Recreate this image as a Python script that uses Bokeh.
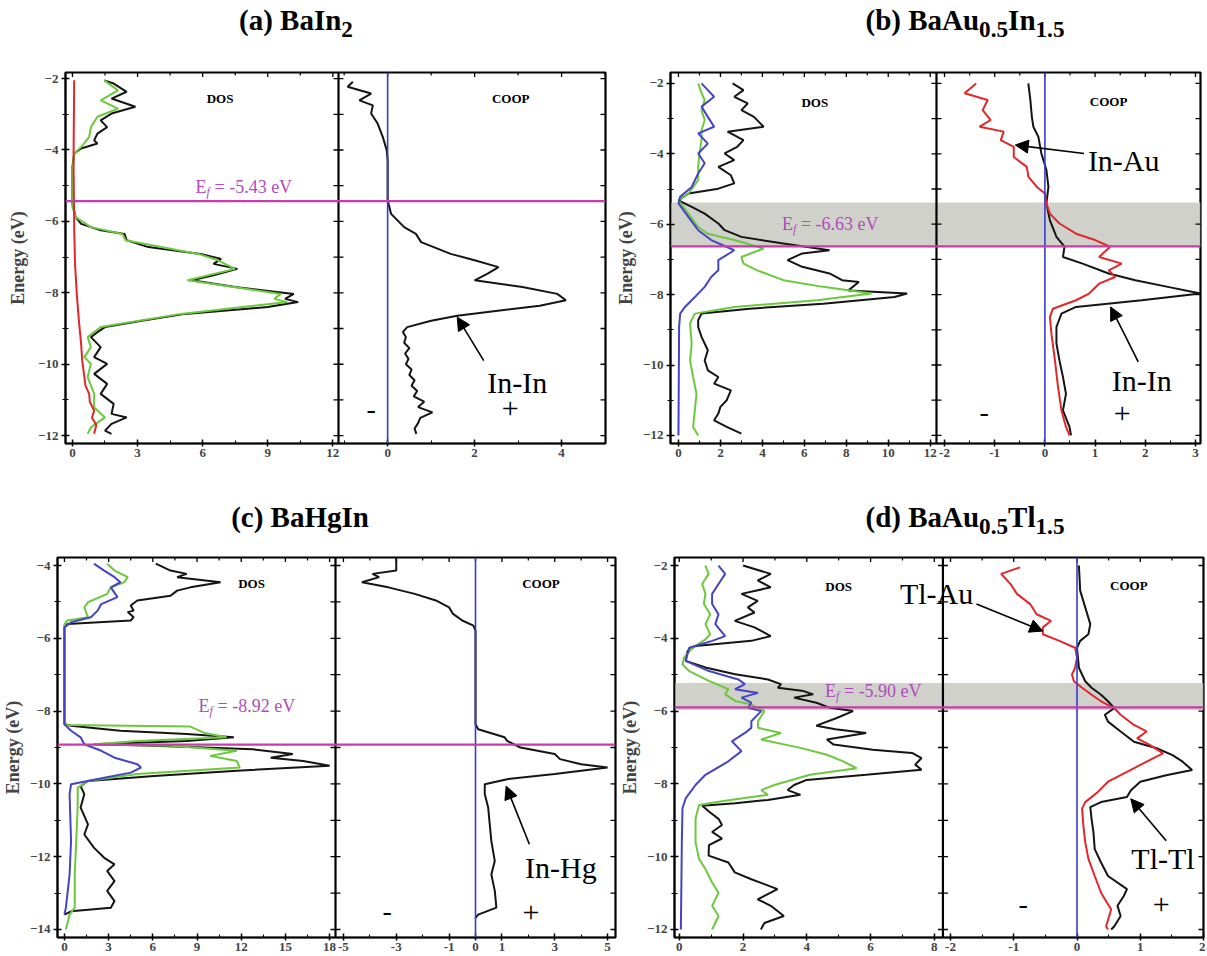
import math
from bokeh.plotting import figure
from bokeh.models import (Range1d, LinearAxis, FixedTicker, Span, BoxAnnotation, Label,
                          Arrow, NormalHead, Div, Spacer)
from bokeh.layouts import column, row
from bokeh.embed import file_html
from bokeh.resources import INLINE

# ---------------- data (energy in eV, value) ----------------
# (a) BaIn2
a_tot_e = [-2.05,-2.14,-2.37,-2.56,-2.79,-2.98,-3.17,-3.36,-3.54,-3.73,-3.82,-3.96,-4.10,-4.48,-5.50,-5.88,-6.07,-6.25,-6.35,-6.53,-6.72,-6.91,-7.05,-7.19,-7.33,-7.51,-7.65,-7.84,-8.03,-8.17,-8.26,-8.40,-8.59,-8.78,-8.96,-9.10,-9.24,-9.52,-9.80,-9.99,-10.27,-10.55,-10.83,-11.11,-11.39,-11.49,-11.67,-11.86,-11.95]
a_tot_v = [1.46,1.9,2.5,1.8,2.9,1.8,1.3,1.6,1.15,1.0,1.15,0.4,0.08,0.0,0.0,0.15,0.4,1.3,2.4,2.5,3.5,5.9,6.85,6.5,7.6,6.5,5.5,7.5,10.2,9.8,10.4,9.0,5.2,3.2,1.5,1.15,0.85,1.3,1.0,1.6,1.0,1.6,1.3,1.9,1.8,2.5,1.8,1.5,1.8]
a_grn_e = [-2.05,-2.33,-2.61,-2.84,-3.07,-3.36,-3.64,-3.92,-4.10,-4.57,-5.60,-5.88,-6.16,-6.35,-6.53,-6.91,-7.09,-7.33,-7.65,-8.03,-8.17,-8.26,-8.59,-8.96,-9.24,-9.52,-9.80,-9.99,-10.36,-10.83,-11.21,-11.49,-11.77,-11.95]
a_grn_v = [1.46,2.1,1.3,2.1,1.15,0.85,0.77,0.4,0.08,0.0,0.0,0.15,0.85,2.3,2.45,5.8,6.7,7.5,5.3,9.6,9.3,9.9,5.0,1.3,0.7,0.85,0.55,0.85,0.7,1.0,1.0,1.5,0.85,0.7]
a_red_e = [-2.05,-4.3,-6.2,-7.2,-8.03,-8.8,-9.43,-9.9,-10.36,-10.6,-10.83,-11.05,-11.3,-11.5,-11.7,-11.95]
a_red_v = [0.08,0.05,0.08,0.12,0.2,0.3,0.4,0.45,0.55,0.6,0.77,0.8,1.0,0.9,1.1,1.0]
a_coop_e = [-2.09,-2.23,-2.42,-2.61,-2.75,-2.98,-3.26,-3.64,-4.01,-4.29,-5.41,-5.79,-6.16,-6.35,-6.58,-6.91,-7.09,-7.28,-7.47,-7.65,-7.84,-8.03,-8.21,-8.36,-8.64,-8.78,-8.96,-9.10,-9.24,-9.40,-9.55,-9.70,-9.85,-10.0,-10.15,-10.3,-10.45,-10.6,-10.75,-10.9,-11.05,-11.2,-11.35,-11.5,-11.65,-11.8,-11.95]
a_coop_v = [-0.8,-0.92,-0.38,-0.65,-0.34,-0.38,-0.23,-0.11,-0.02,0.0,0.0,0.08,0.38,0.65,0.77,1.45,2.0,2.55,2.29,2.0,3.1,3.9,4.1,3.5,1.6,1.0,0.45,0.35,0.42,0.38,0.5,0.4,0.48,0.42,0.55,0.5,0.62,0.55,0.68,0.6,0.84,0.7,1.03,0.75,0.7,0.62,0.66]

# (b) BaAu0.5In1.5
b_tot_e = [-2.00,-2.19,-2.38,-2.57,-2.76,-2.95,-3.23,-3.37,-3.61,-3.80,-3.99,-4.18,-4.37,-4.61,-4.84,-4.99,-5.13,-5.32,-5.51,-5.70,-5.98,-6.17,-6.36,-6.55,-6.74,-6.83,-7.02,-7.21,-7.40,-7.59,-7.64,-7.88,-7.97,-8.07,-8.26,-8.40,-8.54,-8.73,-8.92,-9.20,-9.58,-9.87,-10.15,-10.34,-10.53,-10.72,-11.00,-11.19,-11.38,-11.57,-11.76,-11.95]
b_tot_v = [2.58,3.1,2.66,3.3,3.0,3.6,4.06,2.34,3.1,2.8,2.2,2.66,1.9,2.5,2.66,1.9,0.47,0.0,0.63,1.25,1.9,2.2,3.0,5.0,7.2,5.9,5.2,5.9,7.2,7.8,8.6,8.1,10.9,10.3,6.9,3.4,1.1,0.94,0.94,1.1,1.4,1.25,1.4,1.9,1.7,2.5,2.3,2.0,1.9,1.7,2.3,3.0]
b_grn_e = [-2.00,-2.28,-2.47,-2.76,-3.04,-3.33,-3.61,-3.99,-4.37,-4.75,-5.13,-5.32,-5.70,-6.08,-6.27,-6.45,-6.69,-6.93,-7.12,-7.31,-7.59,-7.78,-7.97,-8.16,-8.35,-8.54,-8.82,-9.39,-9.87,-10.34,-10.82,-11.29,-11.76,-12.00]
b_grn_v = [0.94,1.1,1.25,1.1,1.25,1.1,1.1,1.0,0.94,0.94,0.47,0.0,0.47,0.94,1.4,2.66,4.06,3.0,3.1,3.75,5.0,6.9,9.2,6.6,2.66,0.78,0.55,0.63,0.55,0.7,0.86,0.78,0.7,0.94]
b_blu_e = [-2.00,-2.19,-2.38,-2.66,-2.95,-3.23,-3.42,-3.71,-3.99,-4.27,-4.56,-4.94,-5.22,-5.41,-5.79,-6.17,-6.45,-6.74,-7.02,-7.31,-7.50,-7.78,-8.07,-8.35,-8.54,-8.92,-12.00]
b_blu_v = [1.1,1.4,1.7,1.1,1.4,1.7,0.94,1.4,0.94,1.25,0.94,0.63,0.08,0.0,0.47,0.94,1.56,2.66,1.9,1.9,1.56,1.25,0.78,0.31,0.08,0.03,0.0]
b_coop_blk_e = [-2.00,-2.47,-2.95,-3.23,-3.52,-3.99,-4.46,-4.94,-5.41,-5.89,-6.36,-6.64,-6.93,-7.12,-7.40,-7.59,-7.78,-7.97,-8.16,-8.35,-8.54,-8.92,-9.39,-9.87,-10.34,-10.82,-11.29,-11.76,-12.00]
b_coop_blk_v = [-0.33,-0.29,-0.26,-0.23,-0.13,-0.07,0.03,0.07,0.03,0.1,0.23,0.39,0.36,0.75,1.27,1.8,2.45,3.1,1.93,0.62,0.33,0.23,0.23,0.29,0.36,0.42,0.36,0.49,0.52]
b_coop_red_e = [-2.00,-2.28,-2.47,-2.76,-3.04,-3.23,-3.37,-3.61,-3.80,-4.09,-4.37,-4.65,-4.94,-5.13,-5.41,-5.70,-5.98,-6.27,-6.45,-6.64,-6.93,-7.12,-7.31,-7.50,-7.69,-7.97,-8.16,-8.40,-8.64,-9.11,-9.87,-10.61,-11.29,-11.76,-12.00]
b_coop_red_v = [-1.37,-1.6,-1.14,-1.24,-1.08,-1.3,-0.82,-0.88,-0.62,-0.62,-0.36,-0.33,-0.16,0.0,0.03,0.1,0.29,0.62,1.0,1.3,1.08,1.53,1.27,1.4,1.08,0.88,0.62,0.16,0.1,0.13,0.2,0.26,0.33,0.42,0.49]

# (c) BaHgIn
c_tot_e = [-3.95,-4.14,-4.23,-4.32,-4.46,-4.60,-4.69,-4.83,-4.96,-5.10,-5.24,-5.28,-5.42,-5.51,-5.61,-5.70,-8.36,-8.40,-8.54,-8.63,-8.72,-8.82,-8.91,-8.95,-9.05,-9.18,-9.28,-9.37,-9.50,-9.64,-9.78,-9.92,-10.06,-10.28,-10.65,-11.11,-11.39,-11.75,-12.03,-12.21,-12.39,-12.67,-12.94,-13.22,-13.40,-13.50,-13.59]
c_tot_v = [6.2,7.2,8.3,7.65,10.6,8.55,7.65,7.2,4.95,4.5,4.7,4.3,4.7,4.5,0.2,0.0,0.0,0.45,3.8,8.3,11.5,8.3,2.0,6.1,12.8,15.5,14.0,16.2,18.0,11.7,6.1,1.6,1.1,1.35,1.1,1.6,1.35,2.0,2.7,3.4,2.9,3.4,2.9,3.4,3.15,0.45,0.0]
c_grn_e = [-3.95,-4.14,-4.32,-4.46,-4.60,-4.78,-5.01,-5.15,-5.42,-5.51,-5.61,-8.31,-8.38,-8.42,-8.60,-8.72,-8.82,-8.91,-8.95,-9.09,-9.23,-9.37,-9.55,-9.73,-9.92,-10.10,-10.65,-11.57,-12.49,-13.40,-13.59,-14.00]
c_grn_v = [2.9,3.4,4.3,4.05,3.15,2.9,1.6,1.35,1.6,0.2,0.0,0.0,0.2,8.5,9.5,11.0,4.95,2.0,7.2,11.7,9.9,11.7,11.9,4.95,1.6,0.9,0.9,0.8,0.7,0.7,0.35,0.1]
c_blu_e = [-3.95,-4.14,-4.32,-4.46,-4.60,-4.87,-5.06,-5.24,-5.42,-5.56,-5.70,-8.36,-8.54,-8.72,-8.91,-9.09,-9.28,-9.46,-9.55,-9.69,-9.83,-10.01,-10.28,-11.57,-12.49,-13.40,-13.59]
c_blu_v = [2.0,2.7,3.4,3.8,3.15,3.6,2.5,2.25,1.8,0.45,0.0,0.0,0.45,1.1,1.35,2.5,3.4,4.95,5.2,4.5,2.7,0.45,0.35,0.45,0.35,0.1,0.0]
c_coop_e = [-3.80,-4.14,-4.23,-4.32,-4.46,-4.60,-4.78,-4.96,-5.15,-5.33,-5.51,-5.65,-5.79,-8.36,-8.50,-8.72,-8.82,-9.00,-9.18,-9.32,-9.46,-9.55,-9.73,-9.87,-10.01,-10.28,-10.65,-11.11,-11.57,-12.12,-12.49,-12.94,-13.40,-13.59,-13.68]
c_coop_v = [-3.0,-3.0,-3.9,-3.65,-4.3,-3.3,-2.3,-1.5,-1.0,-0.85,-0.5,-0.08,0.0,0.0,0.1,1.1,1.2,1.7,3.0,3.2,4.0,5.0,3.0,1.2,0.35,0.35,0.48,0.54,0.6,0.73,0.6,0.73,0.79,0.1,0.0]

# (d) BaAu0.5Tl1.5
d_tot_e = [-2.00,-2.23,-2.41,-2.60,-2.78,-2.97,-3.15,-3.29,-3.52,-3.70,-3.94,-4.07,-4.21,-4.35,-4.62,-4.80,-4.99,-5.13,-5.26,-5.36,-5.45,-5.54,-5.63,-5.77,-5.91,-6.00,-6.19,-6.40,-6.50,-6.60,-6.78,-6.92,-7.06,-7.15,-7.29,-7.47,-7.61,-7.75,-7.89,-8.03,-8.17,-8.30,-8.44,-8.53,-8.60,-8.76,-8.96,-9.13,-9.32,-9.50,-9.68,-9.97,-10.16,-10.43,-10.62,-10.89,-11.17,-11.35,-11.63,-11.82,-12.00]
d_tot_v = [2.0,2.87,2.46,2.87,1.95,2.46,2.15,2.36,1.74,2.36,2.87,2.26,0.51,0.26,0.2,0.82,1.75,2.78,3.19,3.09,3.9,4.2,3.6,4.3,4.73,5.45,4.94,4.3,4.9,5.86,4.63,4.84,6.07,7.3,7.6,7.4,7.6,5.86,4.0,3.6,3.4,3.8,2.78,1.75,0.72,0.93,1.23,1.34,1.03,1.34,0.93,0.92,1.54,1.74,2.26,3.08,2.46,2.87,3.28,2.67,2.56]
d_grn_e = [-2.00,-2.23,-2.51,-2.78,-3.06,-3.34,-3.61,-3.89,-4.03,-4.26,-4.53,-4.72,-4.90,-5.17,-5.40,-5.54,-5.72,-5.82,-6.00,-6.28,-6.46,-6.60,-6.78,-7.01,-7.20,-7.38,-7.57,-7.75,-8.03,-8.17,-8.30,-8.49,-8.58,-8.95,-9.60,-10.06,-10.34,-10.71,-10.99,-11.35,-11.63,-12.00]
d_grn_v = [0.82,0.92,0.72,0.82,0.77,0.97,0.82,0.97,0.82,0.41,0.15,0.1,0.31,0.93,1.54,1.44,1.75,2.26,2.67,2.47,2.47,3.19,2.57,3.8,4.63,5.14,5.56,4.1,2.98,2.57,2.78,1.23,0.62,0.51,0.51,0.62,0.82,1.03,1.23,1.03,1.23,1.03]
d_blu_e = [-2.00,-2.23,-2.51,-2.78,-3.06,-3.34,-3.61,-3.94,-4.07,-4.26,-4.62,-4.90,-5.13,-5.26,-5.40,-5.50,-5.63,-5.77,-5.91,-6.00,-6.28,-6.46,-6.60,-6.83,-7.10,-7.38,-7.75,-8.03,-8.40,-8.67,-9.60,-12.00]
d_blu_v = [1.23,1.44,1.23,1.03,1.03,1.23,1.13,1.44,1.03,0.31,0.2,0.93,1.85,2.06,1.75,2.47,1.95,2.26,2.16,2.57,2.26,2.26,2.06,1.65,1.95,1.54,0.82,0.51,0.2,0.1,0.08,0.05]
d_coop_blk_e = [-2.00,-2.69,-3.15,-3.61,-3.89,-4.07,-4.26,-4.81,-5.18,-5.36,-5.55,-5.73,-5.92,-6.10,-6.29,-6.56,-6.84,-7.02,-7.21,-7.39,-7.62,-7.76,-7.94,-8.18,-8.36,-8.50,-8.64,-8.96,-9.33,-9.79,-10.16,-10.53,-10.89,-11.08,-11.35,-11.63,-11.91,-12.00]
d_coop_blk_v = [0.03,0.05,0.13,0.21,0.18,0.05,0.0,0.03,0.13,0.23,0.38,0.49,0.59,0.44,0.49,0.69,0.9,1.26,1.51,1.67,1.82,1.41,1.0,0.85,0.79,0.38,0.21,0.23,0.26,0.28,0.38,0.49,0.79,0.74,0.64,0.69,0.59,0.54]
d_coop_red_e = [-2.05,-2.23,-2.51,-2.78,-3.06,-3.34,-3.52,-3.70,-3.89,-4.07,-4.26,-4.53,-4.81,-4.99,-5.18,-5.36,-5.55,-5.73,-5.92,-6.10,-6.38,-6.56,-6.75,-6.93,-7.16,-7.39,-7.67,-7.94,-8.22,-8.50,-8.68,-9.14,-9.60,-10.06,-10.53,-10.99,-11.45,-11.91,-12.00]
d_coop_red_v = [-0.9,-1.2,-1.05,-0.95,-0.74,-0.64,-0.41,-0.54,-0.54,-0.28,-0.03,0.0,-0.03,-0.08,-0.05,0.08,0.23,0.38,0.59,0.69,0.9,1.1,0.95,1.15,1.36,1.1,0.79,0.49,0.33,0.13,0.08,0.1,0.13,0.18,0.28,0.38,0.54,0.46,0.49]

# Fermi levels (eV) and shaded windows
fermi = {"a": -5.43, "b": -6.63, "c": -8.92, "d": -5.90}
bands = {"b": (-6.63, -5.38), "d": (-5.97, -5.23)}

# ---------------- styling ----------------
SERIF = "Liberation Serif"
C_TOT = "#141414"; C_GRN = "#6cc83c"; C_RED = "#e3262a"; C_BLU = "#4444c4"
C_EF = "#c63ca8"; C_EF_TXT = "#b04cbc"; C_ZERO = "#3a3ad2"; C_BAND = "#cbccc5"


def fmt(t):
    return f"{t:g}"


def make_panel(width, height, ml, mr, mt, mb, dos_px, coop_px, dos_vis, coop_vis, ylim,
               y_major, y_minor, dos_major, dos_minor, coop_major, coop_minor, lab_std):
    total = dos_px + coop_px
    d0, d1 = dos_vis
    dos_full = (d0, d0 + (d1 - d0) * total / dos_px)
    c0, c1 = coop_vis
    coop_full = (c0 - (c1 - c0) * dos_px / coop_px, c1)
    p = figure(width=width, height=height, min_border_left=ml, min_border_right=mr,
               min_border_top=mt, min_border_bottom=mb,
               x_range=Range1d(*dos_full), y_range=Range1d(*ylim),
               output_backend="svg", toolbar_location=None,
               x_axis_location=None, y_axis_location=None)
    p.extra_x_ranges = {"coop": Range1d(*coop_full)}
    p.xgrid.visible = False
    p.ygrid.visible = False
    p.outline_line_color = "black"
    p.outline_line_width = 2.2
    p.background_fill_color = "white"
    p.border_fill_color = "white"

    def to_dos(c):
        return round(dos_full[0] + (c - coop_full[0]) * (dos_full[1] - dos_full[0]) / (coop_full[1] - coop_full[0]), 6)

    xt = [float(t) for t in dos_major] + [to_dos(t) for t in coop_major]
    xm = [float(t) for t in dos_minor] + [to_dos(t) for t in coop_minor]
    overrides = {float(t): fmt(t) for t in dos_major}
    overrides.update({to_dos(t): fmt(t) for t in coop_major})

    xax = LinearAxis(ticker=FixedTicker(ticks=xt, minor_ticks=xm),
                     major_label_overrides=overrides,
                     major_label_text_font=SERIF, major_label_text_font_style="bold",
                     major_label_text_font_size="13px", major_label_standoff=2,
                     major_tick_in=4, major_tick_out=3, minor_tick_in=3, minor_tick_out=0,
                     axis_line_width=1.5, major_tick_line_width=1.5)
    p.add_layout(xax, "below")

    yax = LinearAxis(ticker=FixedTicker(ticks=y_major, minor_ticks=y_minor),
                     axis_label="Energy (eV)", axis_label_text_font=SERIF,
                     axis_label_text_font_style="bold", axis_label_text_font_size="18px",
                     axis_label_standoff=lab_std,
                     major_label_text_font=SERIF, major_label_text_font_style="bold",
                     major_label_text_font_size="13px", major_label_standoff=3,
                     major_tick_in=4, major_tick_out=4, minor_tick_in=3, minor_tick_out=3,
                     axis_line_width=1.5, major_tick_line_width=1.5)
    p.add_layout(yax, "left")

    all_y = sorted(y_major + y_minor)
    # inward ticks on the top border (half of each mark is clipped by the frame)
    p.scatter(x=xt, y=[ylim[1]] * len(xt), marker="dash", angle=math.pi / 2, size=9,
              line_color="black", line_width=1.3)
    p.scatter(x=xm, y=[ylim[1]] * len(xm), marker="dash", angle=math.pi / 2, size=6,
              line_color="black", line_width=1.2)
    # inward ticks on the right border
    p.scatter(x=[coop_vis[1]] * len(all_y), y=all_y, marker="dash", size=10,
              line_color="black", line_width=1.3, x_range_name="coop")
    # divider between DOS and COOP, with ticks on both sides
    p.add_layout(Span(location=d1, dimension="height", line_color="black", line_width=2.2))
    p.scatter(x=[d1] * len(all_y), y=all_y, marker="dash", size=10, line_color="black", line_width=1.3)
    # zero of the COOP
    p.add_layout(Span(location=0, dimension="height", x_range_name="coop", line_color=C_ZERO, line_width=1.6))
    return p


def line(p, e, v, color, rng="default", w=2.0):
    n = min(len(e), len(v))
    p.line(x=v[:n], y=e[:n], line_color=color, line_width=w, x_range_name=rng)


def lab(p, x, y, text, size, rng="default", style="normal", color="black", align="center", xo=0, yo=0):
    p.add_layout(Label(x=x, y=y, text=text, x_range_name=rng, text_font=SERIF,
                       text_font_size=size, text_font_style=style, text_color=color,
                       text_align=align, text_baseline="middle", x_offset=xo, y_offset=yo))


def ef_label(p, x, y, value_text):
    lab(p, x, y, "E", "18px", color=C_EF_TXT, align="left")
    lab(p, x, y, "f", "12px", style="italic", color=C_EF_TXT, align="left", xo=11, yo=-5)
    lab(p, x, y, "= " + value_text + " eV", "18px", color=C_EF_TXT, align="left", xo=19)


def arrow(p, xs, ys, xe, ye):
    p.add_layout(Arrow(end=NormalHead(size=13, fill_color="black", line_color="black"),
                       x_start=xs, y_start=ys, x_end=xe, y_end=ye, x_range_name="coop",
                       line_color="black", line_width=1.6))


def fermi_line(p, key):
    p.add_layout(Span(location=fermi[key], dimension="width", line_color=C_EF, line_width=2.2))


def band(p, key):
    lo, hi = bands[key]
    p.add_layout(BoxAnnotation(bottom=lo, top=hi, fill_color=C_BAND, fill_alpha=0.9,
                               line_alpha=0, level="underlay"))


Y12 = [-12, -10, -8, -6, -4, -2]
Y12m = [-11, -9, -7, -5, -3]

# ---------- (a) ----------
pa = make_panel(613, 443, 65, 8, 32, 40, 273, 267, (-0.32, 12.26), (-1.13, 5.01), (-12.22, -1.83),
                Y12, Y12m, [0, 3, 6, 9, 12], [1.5, 4.5, 7.5, 10.5], [0, 2, 4], [-1, 1, 3, 5], 7)
fermi_line(pa, "a")
line(pa, a_tot_e, a_tot_v, C_TOT)
line(pa, a_grn_e, a_grn_v, C_GRN)
line(pa, a_red_e, a_red_v, C_RED)
line(pa, a_coop_e, a_coop_v, C_TOT, "coop")
lab(pa, 6.8, -2.56, "DOS", "13px", style="bold")
lab(pa, 2.83, -2.56, "COOP", "13px", rng="coop", style="bold")
ef_label(pa, 5.67, -5.05, "-5.43")
arrow(pa, 2.21, -9.9, 1.6, -8.68)
lab(pa, 2.98, -10.5, "In-In", "30px", rng="coop")
lab(pa, -0.38, -11.25, "-", "28px", rng="coop")
lab(pa, 2.82, -11.25, "+", "30px", rng="coop")

# ---------- (b) ----------
pb = make_panel(592, 443, 49, 5, 32, 40, 270, 268, (-0.38, 12.3), (-2.16, 3.1), (-12.23, -1.69),
                Y12, Y12m, [0, 2, 4, 6, 8, 10, 12], [1, 3, 5, 7, 9, 11],
                [-2, -1, 0, 1, 2, 3], [-1.5, -0.5, 0.5, 1.5, 2.5], 4)
band(pb, "b")
fermi_line(pb, "b")
line(pb, b_tot_e, b_tot_v, C_TOT)
line(pb, b_grn_e, b_grn_v, C_GRN)
line(pb, b_blu_e, b_blu_v, C_BLU)
line(pb, b_coop_blk_e, b_coop_blk_v, C_TOT, "coop")
line(pb, b_coop_red_e, b_coop_red_v, C_RED, "coop")
lab(pb, 6.5, -2.54, "DOS", "13px", style="bold")
lab(pb, 1.27, -2.5, "COOP", "13px", rng="coop", style="bold")
ef_label(pb, 4.93, -5.98, "-6.63")
arrow(pb, 0.78, -3.99, -0.59, -3.75)
lab(pb, 1.57, -4.18, "In-Au", "30px", rng="coop")
arrow(pb, 1.86, -9.91, 1.31, -8.35)
lab(pb, 1.93, -10.44, "In-In", "30px", rng="coop")
lab(pb, -1.21, -11.34, "-", "28px", rng="coop")
lab(pb, 1.54, -11.38, "+", "30px", rng="coop")

# ---------- (c) ----------
Y14 = [-14, -12, -10, -8, -6, -4]
Y14m = [-13, -11, -9, -7, -5]
pc = make_panel(617, 404, 53, 2, 6, 18, 280, 282, (-0.47, 18.4), (-5.3, 5.3), (-14.22, -3.78),
                Y14, Y14m, [0, 3, 6, 9, 12, 15, 18], [1.5, 4.5, 7.5, 10.5, 13.5, 16.5],
                [-5, -3, -1, 0, 1, 3, 5], [-4, -2, 2, 4], 4)
fermi_line(pc, "c")
line(pc, c_tot_e, c_tot_v, C_TOT)
line(pc, c_grn_e, c_grn_v, C_GRN)
line(pc, c_blu_e, c_blu_v, C_BLU)
line(pc, c_coop_e, c_coop_v, C_TOT, "coop")
lab(pc, 12.7, -4.5, "DOS", "13px", style="bold")
lab(pc, 2.48, -4.5, "COOP", "13px", rng="coop", style="bold")
ef_label(pc, 9.1, -7.86, "-8.92")
arrow(pc, 2.04, -11.66, 1.16, -10.06)
lab(pc, 3.23, -12.3, "In-Hg", "30px", rng="coop")
lab(pc, -3.34, -13.5, "-", "28px", rng="coop")
lab(pc, 2.1, -13.54, "+", "30px", rng="coop")

# ---------- (d) ----------
pd_ = make_panel(588, 404, 48, 2, 6, 18, 273, 265, (-0.15, 8.27), (-2.12, 2.0), (-12.22, -1.78),
                 Y12, Y12m, [0, 2, 4, 6, 8], [1, 3, 5, 7],
                 [-2, -1, 0, 1, 2], [-1.5, -0.5, 0.5, 1.5], 4)
band(pd_, "d")
fermi_line(pd_, "d")
line(pd_, d_tot_e, d_tot_v, C_TOT)
line(pd_, d_grn_e, d_grn_v, C_GRN)
line(pd_, d_blu_e, d_blu_v, C_BLU)
line(pd_, d_coop_blk_e, d_coop_blk_v, C_TOT, "coop")
line(pd_, d_coop_red_e, d_coop_red_v, C_RED, "coop")
lab(pd_, 5.0, -2.58, "DOS", "13px", style="bold")
lab(pd_, 0.82, -2.55, "COOP", "13px", rng="coop", style="bold")
ef_label(pd_, 4.57, -5.45, "-5.90")
arrow(pd_, -1.59, -3.06, -0.54, -3.8)
lab(pd_, -2.22, -2.77, "Tl-Au", "30px", rng="coop")
arrow(pd_, 1.41, -9.56, 0.85, -8.41)
lab(pd_, 1.36, -10.06, "Tl-Tl", "30px", rng="coop")
lab(pd_, -0.85, -11.31, "-", "28px", rng="coop")
lab(pd_, 1.33, -11.31, "+", "30px", rng="coop")


# ---------- titles ----------
def title(html, w, h):
    return Div(text=html, width=w, height=h, margin=0,
               styles={"font-family": SERIF, "font-weight": "bold", "font-size": "29px",
                       "text-align": "center", "line-height": f"{h}px", "white-space": "nowrap",
                       "color": "black"})


SUB = '<sub style="font-size:80%">'
t_a = title(f"(a) BaIn{SUB}2</sub>", 592, 40)
t_b = title(f"(b) BaAu{SUB}0.5</sub>In{SUB}1.5</sub>", 480, 40)
t_c = title("(c) BaHgIn", 600, 68)
t_d = title(f"(d) BaAu{SUB}0.5</sub>Tl{SUB}1.5</sub>", 480, 68)

layout = column(
    row(t_a, Spacer(width=133, height=40, margin=0), t_b, spacing=0),
    row(pa, pb, spacing=0),
    row(t_c, Spacer(width=125, height=68, margin=0), t_d, spacing=0),
    row(pc, pd_, spacing=0),
    spacing=0,
)

open("out.html", "w").write(file_html(layout, INLINE))
